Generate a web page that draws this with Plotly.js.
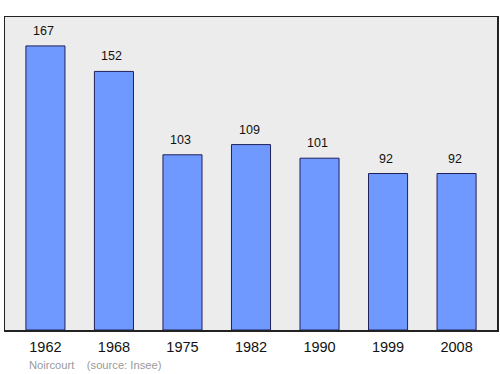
<!DOCTYPE html>
<html>
<head>
<meta charset="utf-8">
<script src="https://cdn.plot.ly/plotly-3.0.1.min.js"></script>
<style>html,body{margin:0;padding:0;background:#fff;}#chart{width:500px;height:374px;}</style>
</head>
<body>
<div id="chart"></div>
<script>
const years = ["1962", "1968", "1975", "1982", "1990", "1999", "2008"];
const population = [167, 152, 103, 109, 101, 92, 92];
const commune = "Noircourt";
const source = "(source: Insee)";

const trace = {
  type: "bar",
  x: years,
  y: population,
  width: 0.57,
  marker: {color: "#7099ff", line: {color: "#20205a", width: 1}},
  hoverinfo: "skip"
};

const annotations = years.map((yr, i) => ({
  x: i, y: population[i], xref: "x", yref: "y",
  text: String(population[i]), showarrow: false,
  yanchor: "bottom", yshift: 6, xshift: -2,
  font: {family: "Liberation Sans, Arial, sans-serif", size: 12.5, color: "#111"}
}));
annotations.push({
  xref: "paper", yref: "paper", x: 0.045, y: -0.085, xanchor: "left", yanchor: "top",
  text: commune + "    " + source, showarrow: false,
  font: {family: "Liberation Sans, Arial, sans-serif", size: 11.2, color: "#9a9a9a"}
});

const layout = {
  width: 500, height: 374,
  margin: {l: 5, r: 3, t: 17, b: 44},
  paper_bgcolor: "#ffffff",
  plot_bgcolor: "#ececec",
  showlegend: false,
  xaxis: {
    type: "category", range: [-0.59, 6.59],
    showline: true, mirror: true, linecolor: "#222", linewidth: 1.5,
    showgrid: false, zeroline: false, ticks: "", ticklabelstandoff: 3,
    tickfont: {family: "Liberation Sans, Arial, sans-serif", size: 14.5, color: "#111"},
    fixedrange: true
  },
  yaxis: {
    range: [0, 184],
    showline: true, mirror: true, linecolor: "#222", linewidth: 1.5,
    showgrid: false, zeroline: false, showticklabels: false, ticks: "",
    fixedrange: true
  },
  annotations: annotations
};

Plotly.newPlot("chart", [trace], layout, {staticPlot: true, displayModeBar: false});
</script>
</body>
</html>
